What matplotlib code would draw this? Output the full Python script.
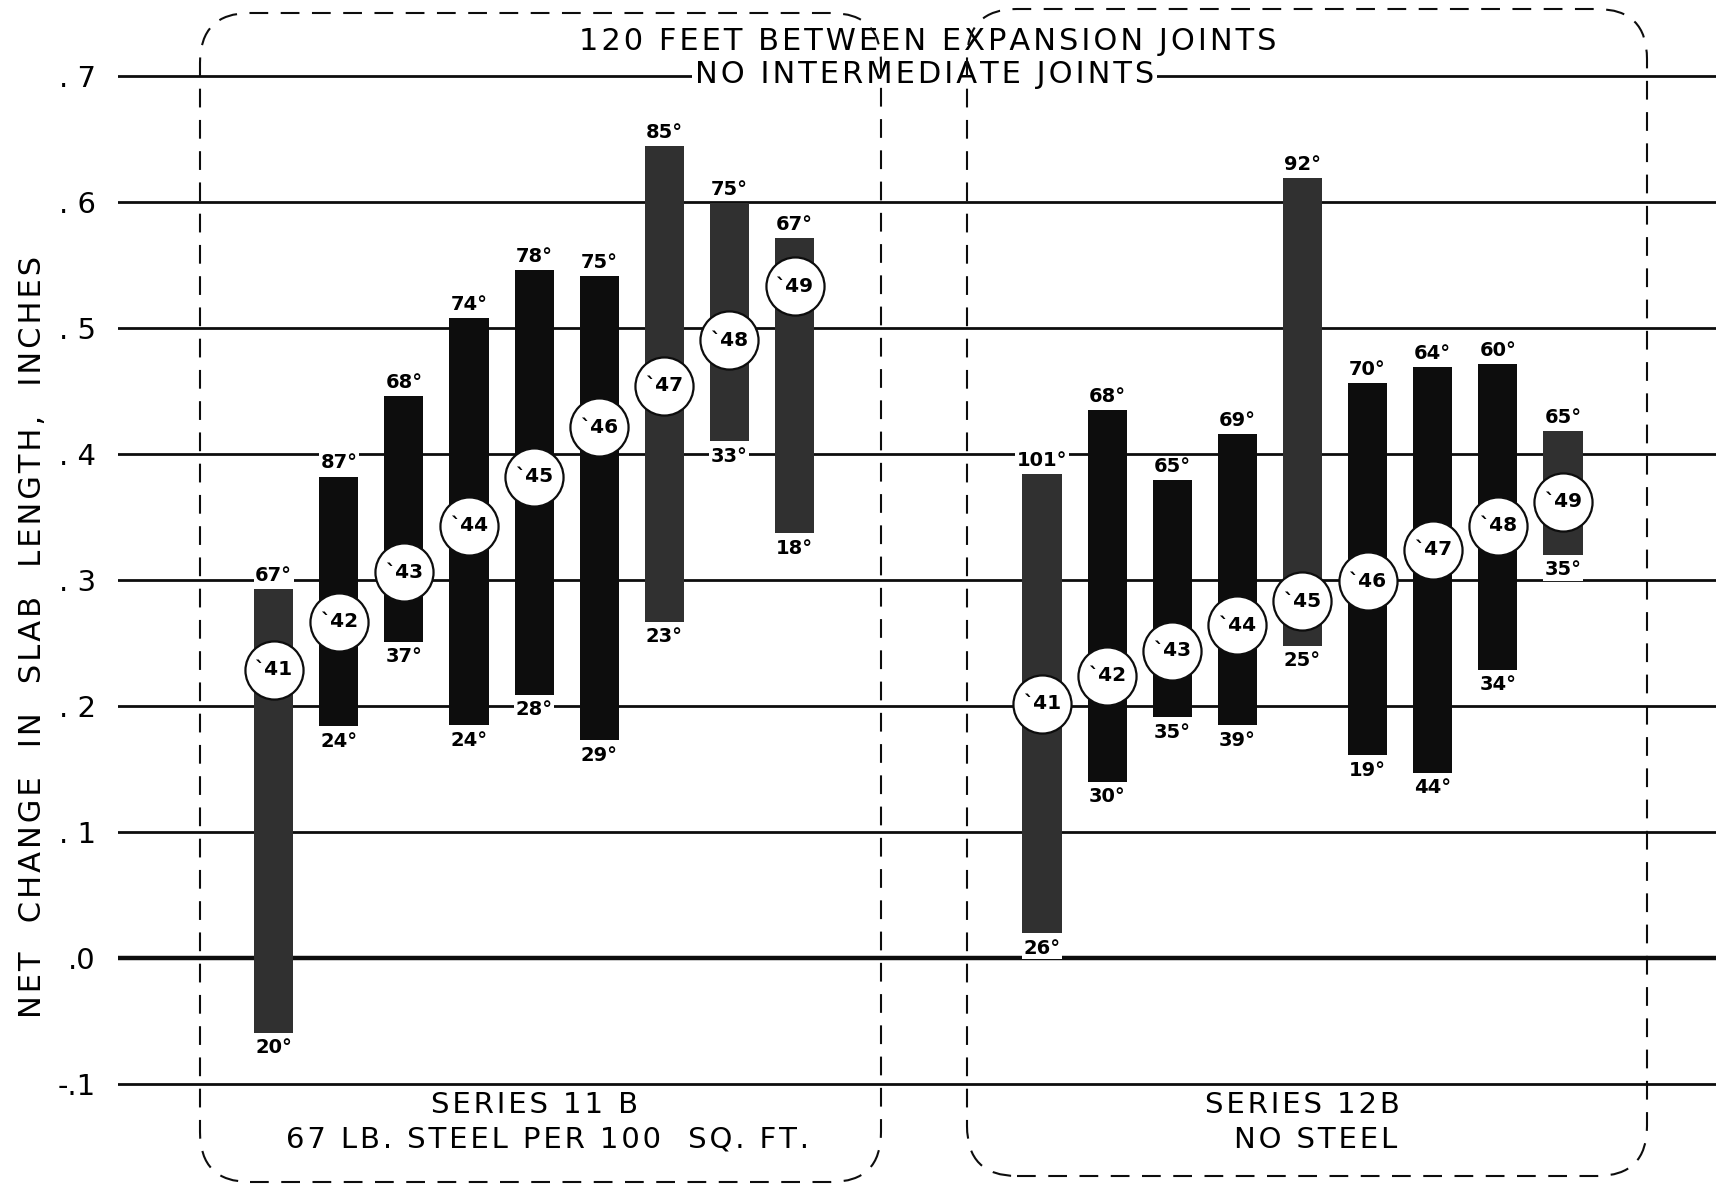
import matplotlib
matplotlib.use("Agg")
import matplotlib.pyplot as plt
from matplotlib.patches import FancyBboxPatch

# ---- data -------------------------------------------------------------
years = ["41", "42", "43", "44", "45", "46", "47", "48", "49"]

# Series 11B (67 lb steel per 100 sq ft): range of net change, inches
s11_top = [0.293, 0.382, 0.446, 0.508, 0.546, 0.541, 0.644, 0.599, 0.571]
s11_bot = [-0.059, 0.184, 0.251, 0.185, 0.209, 0.173, 0.267, 0.410, 0.337]
s11_mid = [0.229, 0.267, 0.306, 0.343, 0.382, 0.421, 0.454, 0.490, 0.533]
s11_hi_temp = [67, 87, 68, 74, 78, 75, 85, 75, 67]
s11_lo_temp = [20, 24, 37, 24, 28, 29, 23, 33, 18]

# Series 12B (no steel)
s12_top = [0.384, 0.435, 0.379, 0.416, 0.619, 0.456, 0.469, 0.471, 0.418]
s12_bot = [0.020, 0.140, 0.191, 0.185, 0.248, 0.161, 0.147, 0.229, 0.320]
s12_mid = [0.202, 0.224, 0.244, 0.264, 0.283, 0.299, 0.324, 0.343, 0.362]
s12_hi_temp = [101, 68, 65, 69, 92, 70, 64, 60, 65]
s12_lo_temp = [26, 30, 35, 39, 25, 19, 44, 34, 35]

yticks = [-0.1, 0.0, 0.1, 0.2, 0.3, 0.4, 0.5, 0.6, 0.7]
ytick_labels = ["-.1", ".0", ". 1", ". 2", ". 3", ". 4", ". 5", ". 6", ". 7"]

# ---- styling ----------------------------------------------------------
plt.rcParams["font.family"] = ["DejaVu Sans"]
INK = "#0d0d0d"
STIPPLE = "#303030"
s11_shade = [STIPPLE, INK, INK, INK, INK, INK, STIPPLE, STIPPLE, STIPPLE]
s12_shade = [STIPPLE, INK, INK, INK, STIPPLE, INK, INK, INK, STIPPLE]


def spaced(text, gap="\u200a"):
    """Open up the lettering by putting a hair space between characters."""
    return gap.join(text)


W, H = 1716, 1184
fig = plt.figure(figsize=(W / 100, H / 100), dpi=100)
fig.patch.set_facecolor("white")
ax = fig.add_axes([118 / W, 0, 1 - 118 / W, 1])
ax.set_xlim(-2.39, 22.15)
ax.set_ylim(-0.179, 0.760)
for sp in ax.spines.values():
    sp.set_visible(False)
ax.set_xticks([])
ax.set_yticks(yticks)
ax.set_yticklabels(ytick_labels, fontsize=21)
ax.tick_params(axis="y", length=0, pad=16)

# horizontal rulings
for v in yticks:
    ax.axhline(v, color=INK, lw=3.2 if v == 0 else 2.0, zorder=1)

groups = [
    (0.0, s11_top, s11_bot, s11_mid, s11_hi_temp, s11_lo_temp, s11_shade),
    (11.8, s12_top, s12_bot, s12_mid, s12_hi_temp, s12_lo_temp, s12_shade),
]

label_box = dict(boxstyle="square,pad=0.08", fc="white", ec="none")
for start, top, bot, mid, hi, lo, shade in groups:
    xs = [start + i for i in range(len(years))]
    heights = [t - b for t, b in zip(top, bot)]
    ax.bar(xs, heights, bottom=bot, width=0.6, color=shade, zorder=2)
    ax.scatter(xs, mid, s=1750, facecolor="white", edgecolor=INK,
               linewidth=1.6, zorder=4)
    for x, t, b, m, th, tl, yr in zip(xs, top, bot, mid, hi, lo, years):
        ax.text(x, m, f"`{yr}", ha="center", va="center", fontsize=14.5,
                fontweight="bold", zorder=5)
        ax.annotate(f"{th}°", (x, t), xytext=(0, 3), textcoords="offset points",
                    ha="center", va="bottom", fontsize=14, fontweight="bold",
                    bbox=label_box, zorder=3)
        ax.annotate(f"{tl}°", (x, b), xytext=(0, -4), textcoords="offset points",
                    ha="center", va="top", fontsize=14, fontweight="bold",
                    bbox=label_box, zorder=3)

# headings
ax.text(10.05, 0.727, spaced("120 FEET BETWEEN EXPANSION JOINTS"),
        ha="center", va="center", fontsize=22, zorder=6)
ax.text(10.0, 0.701, spaced("NO INTERMEDIATE JOINTS"), ha="center",
        va="center", fontsize=22, zorder=6,
        bbox=dict(boxstyle="square,pad=0.1", fc="white", ec="none"))

ax.text(4.0, -0.116, spaced("SERIES 11 B"), ha="center", va="center",
        fontsize=21)
ax.text(4.2, -0.144, spaced("67 LB. STEEL PER 100  SQ. FT."), ha="center",
        va="center", fontsize=21)
ax.text(15.8, -0.116, spaced("SERIES 12B"), ha="center", va="center",
        fontsize=21)
ax.text(16.0, -0.144, spaced("NO STEEL"), ha="center", va="center",
        fontsize=21)

ylabel = "   ".join(spaced(w) for w in
                     ["NET", "CHANGE", "IN", "SLAB", "LENGTH,", "INCHES"])
fig.text(33 / W, 1 - 637 / H, ylabel, rotation=90, ha="center", va="center",
         fontsize=22)

# dashed enclosures around each series
r = 50
for x0, y0, x1, y1 in [(200, 13, 881, 1182), (967, 9, 1647, 1176)]:
    box = FancyBboxPatch((x0 / W, 1 - y1 / H), (x1 - x0) / W, (y1 - y0) / H,
                         boxstyle=f"round,pad=0,rounding_size={r / W}",
                         mutation_aspect=W / H, transform=fig.transFigure,
                         fill=False, ec=INK, lw=1.5, ls=(0, (9, 6)),
                         zorder=10)
    fig.patches.append(box)

fig.savefig("out.png", dpi=100, facecolor="white")
